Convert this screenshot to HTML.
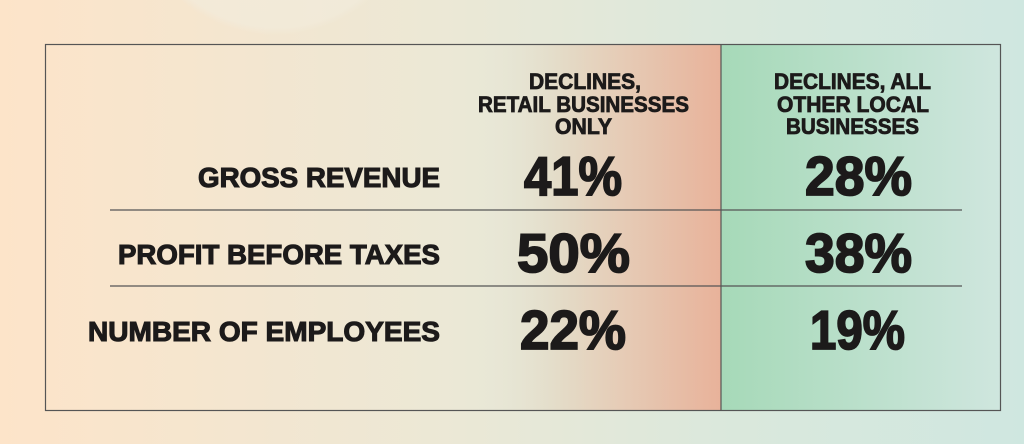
<!DOCTYPE html>
<html><head><meta charset="utf-8"><style>
html,body{margin:0;padding:0;width:1024px;height:444px;overflow:hidden}
</style></head><body>
<svg width="1024" height="444" viewBox="0 0 1024 444" xmlns="http://www.w3.org/2000/svg" font-family="Liberation Sans, sans-serif" font-weight="bold" fill="#1c1a1a">
<defs>
<linearGradient id="bg" x1="0" x2="1" y1="0" y2="0">
<stop offset="0" stop-color="#fde4c9"/><stop offset="0.45" stop-color="#ebe8d6"/><stop offset="0.7" stop-color="#dbe8dc"/><stop offset="1" stop-color="#cfe7e0"/>
</linearGradient>
<linearGradient id="ret" x1="0" x2="1"><stop offset="0" stop-color="#e6e6d6" stop-opacity="0"/><stop offset="0.35" stop-color="#e4dcc8"/><stop offset="1" stop-color="#e8b29a"/></linearGradient>
<linearGradient id="grn" x1="0" x2="1"><stop offset="0" stop-color="#a6d9b8"/><stop offset="1" stop-color="#cfe6de"/></linearGradient>
<radialGradient id="circ" cx="0.5" cy="0.5" r="0.5"><stop offset="0" stop-color="#f4efe0"/><stop offset="0.95" stop-color="#f2ecdd"/><stop offset="1" stop-color="#f2ecdd" stop-opacity="0"/></radialGradient>
</defs>
<rect width="1024" height="444" fill="url(#bg)"/>
<circle cx="275" cy="-110" r="145" fill="url(#circ)" opacity="0.6"/>
<rect x="470" y="44" width="251" height="367" fill="url(#ret)"/>
<rect x="721" y="44" width="279" height="367" fill="url(#grn)"/>
<rect x="45.5" y="44.5" width="955" height="366" fill="none" stroke="#555" stroke-width="1.2"/>
<line x1="721" y1="44" x2="721" y2="411" stroke="#555" stroke-width="1.2"/>
<line x1="110" y1="210" x2="962" y2="210" stroke="#555" stroke-width="1.2"/>
<line x1="110" y1="286" x2="962" y2="286" stroke="#555" stroke-width="1.2"/>
<g font-size="22" stroke="#1c1a1a" stroke-width="0.8">
<text x="529" y="89" textLength="112" lengthAdjust="spacingAndGlyphs">DECLINES,</text>
<text x="478" y="112" textLength="211" lengthAdjust="spacingAndGlyphs">RETAIL BUSINESSES</text>
<text x="555" y="134" textLength="57" lengthAdjust="spacingAndGlyphs">ONLY</text>
<text x="774" y="89" textLength="157" lengthAdjust="spacingAndGlyphs">DECLINES, ALL</text>
<text x="777" y="112" textLength="152" lengthAdjust="spacingAndGlyphs">OTHER LOCAL</text>
<text x="786" y="134" textLength="133" lengthAdjust="spacingAndGlyphs">BUSINESSES</text>
</g>
<g font-size="28" stroke="#1c1a1a" stroke-width="1.1">
<text x="198" y="187" textLength="242" lengthAdjust="spacingAndGlyphs">GROSS REVENUE</text>
<text x="118" y="264" textLength="322" lengthAdjust="spacingAndGlyphs">PROFIT BEFORE TAXES</text>
<text x="88" y="341" textLength="352" lengthAdjust="spacingAndGlyphs">NUMBER OF EMPLOYEES</text>
</g>
<g font-size="55" stroke="#1c1a1a" stroke-width="1.8">
<text x="524" y="195" textLength="98" lengthAdjust="spacingAndGlyphs">41%</text>
<text x="805" y="195" textLength="107" lengthAdjust="spacingAndGlyphs">28%</text>
<text x="517" y="272" textLength="113" lengthAdjust="spacingAndGlyphs">50%</text>
<text x="805" y="272" textLength="107" lengthAdjust="spacingAndGlyphs">38%</text>
<text x="520" y="349" textLength="106" lengthAdjust="spacingAndGlyphs">22%</text>
<text x="810" y="349" textLength="95" lengthAdjust="spacingAndGlyphs">19%</text>
</g>
</svg>
</body></html>
